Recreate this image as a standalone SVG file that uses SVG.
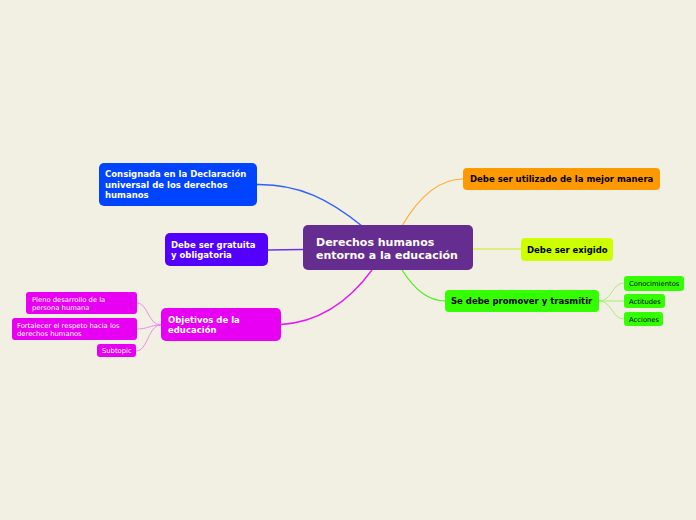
<svg xmlns="http://www.w3.org/2000/svg" width="696" height="520" viewBox="0 0 696 520">
<style>
.b{font-family:"DejaVu Sans",Verdana,sans-serif;font-weight:bold}
.m{font-size:8.5px}
.s{font-family:"DejaVu Sans",Verdana,sans-serif;font-size:6.8px}
.w{fill:#fff}
.k{fill:#000}
.c{fill:none}
</style>
<rect width="696" height="520" fill="#f2efe3"/>
<g id="connectors" class="c">
<path d="M257,184.5 C300,184 330,200 362,226" stroke="#2e5fff" stroke-width="1.3"/>
<path d="M268,250 L303,249.5" stroke="#6a32f0" stroke-width="1.5"/>
<path d="M281,324.5 C320,322 350,300 372,270" stroke="#e61aef" stroke-width="1.3"/>
<path d="M463,179 C440,179 420,195 402,226" stroke="#ffab33" stroke-width="1.2"/>
<path d="M473,249 L521,249" stroke="#c6ee22" stroke-width="1.2"/>
<path d="M402,270 C415,290 428,301 446,301" stroke="#4cf01a" stroke-width="1.2"/>
<g stroke="#ef7ef0" stroke-width="0.9">
<path d="M161,325 C148,325 148,303 137,303"/>
<path d="M161,325 C150,325 148,329 137,329"/>
<path d="M161,325 C148,325 148,351 136,351"/>
</g>
<g stroke="#9cf06a" stroke-width="0.9">
<path d="M599,301 C612,301 612,283 624,283"/>
<path d="M599,301 L624,301"/>
<path d="M599,301 C612,301 612,319 624,319"/>
</g>
</g>
<g id="center">
<rect x="303" y="225" width="170" height="45" rx="5" fill="#652d8f"/>
<text class="b w" font-size="11" x="316" y="246">Derechos humanos</text>
<text class="b w" font-size="11" x="316" y="259">entorno a la educación</text>
</g>
<g id="consignada">
<rect x="99" y="163" width="158" height="43" rx="5" fill="#0044ff"/>
<text class="b m w" x="105" y="177">Consignada en la Declaración</text>
<text class="b m w" x="105" y="187.5">universal de los derechos</text>
<text class="b m w" x="105" y="198">humanos</text>
</g>
<g id="gratuita">
<rect x="165" y="233" width="103" height="33" rx="5" fill="#5400ff"/>
<text class="b m w" x="171" y="248">Debe ser gratuita</text>
<text class="b m w" x="171" y="258">y obligatoria</text>
</g>
<g id="objetivos">
<rect x="161" y="308" width="120" height="33" rx="5" fill="#e800f2"/>
<text class="b m w" x="168" y="323">Objetivos de la</text>
<text class="b m w" x="168" y="333">educación</text>
</g>
<g id="pleno">
<rect x="26" y="292" width="111" height="22" rx="3" fill="#e800f2"/>
<text class="s w" x="32" y="301.5">Pleno desarrollo de la</text>
<text class="s w" x="32" y="309.5">persona humana</text>
</g>
<g id="fortalecer">
<rect x="12" y="318" width="125" height="22" rx="3" fill="#e800f2"/>
<text class="s w" x="17" y="327.5">Fortalecer el respeto hacia los</text>
<text class="s w" x="17" y="335.5">derechos humanos</text>
</g>
<g id="subtopic">
<rect x="97" y="344" width="39" height="13" rx="3" fill="#e800f2"/>
<text class="s w" x="102" y="353">Subtopic</text>
</g>
<g id="utilizado">
<rect x="463" y="168" width="197" height="22" rx="4" fill="#ff9900"/>
<text class="b m k" x="470" y="182">Debe ser utilizado de la mejor manera</text>
</g>
<g id="exigido">
<rect x="521" y="238" width="92" height="23" rx="4" fill="#ccff00"/>
<text class="b m k" x="527" y="252.5">Debe ser exigido</text>
</g>
<g id="promover">
<rect x="445" y="290" width="154" height="22" rx="4" fill="#33ff00"/>
<text class="b m k" x="451" y="304">Se debe promover y trasmitir</text>
</g>
<g id="conocimientos">
<rect x="624" y="276" width="60" height="15" rx="3" fill="#33ff00"/>
<text class="s k" x="629" y="286">Conocimientos</text>
</g>
<g id="actitudes">
<rect x="624" y="294" width="41" height="14" rx="3" fill="#33ff00"/>
<text class="s k" x="629" y="304">Actitudes</text>
</g>
<g id="acciones">
<rect x="624" y="312" width="39" height="14" rx="3" fill="#33ff00"/>
<text class="s k" x="629" y="322">Acciones</text>
</g>
</svg>
